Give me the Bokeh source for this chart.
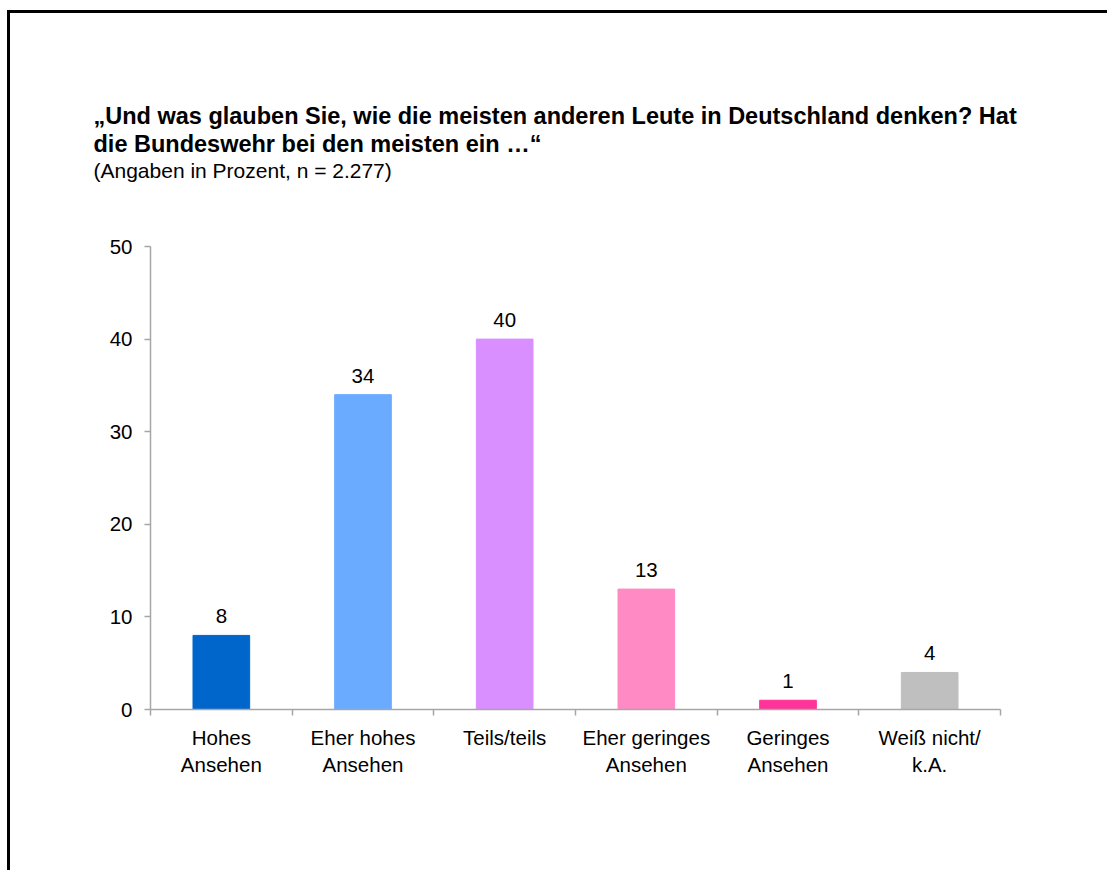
from bokeh.plotting import figure
from bokeh.models import Range1d, FixedTicker, Title, ColumnDataSource
from bokeh.core.properties import value
from bokeh.embed import file_html
from bokeh.resources import INLINE

# ---- data ----
categories = ["Hohes\nAnsehen", "Eher hohes\nAnsehen", "Teils/teils",
              "Eher geringes\nAnsehen", "Geringes\nAnsehen", "Weiß nicht/\nk.A."]
values = [8, 34, 40, 13, 1, 4]
colors = ["#0066CC", "#6AABFF", "#D98FFF", "#FF8AC4", "#FF3399", "#BFBFBF"]
y_ticks = [0, 10, 20, 30, 40, 50]
title_line1 = "„Und was glauben Sie, wie die meisten anderen Leute in Deutschland denken? Hat"
title_line2 = "die Bundeswehr bei den meisten ein …“"
subtitle = "(Angaben in Prozent, n = 2.277)"

FONT = "Liberation Sans"
AXIS_GRAY = "#A6A6A6"

# geometry (pixels)
W, H = 1100, 860
FL, FT, FW, FH = 140, 233, 850, 463

n = len(categories)
centers = [i + 0.5 for i in range(n)]

p = figure(width=W, height=H, output_backend="svg", toolbar_location=None,
           x_range=Range1d(0, n), y_range=Range1d(0, 50),
           min_border_left=FL, min_border_top=FT,
           min_border_right=W - FL - FW, min_border_bottom=H - FT - FH)
p.styles = {"border-left": "3px solid #000", "border-top": "3px solid #000",
            "margin-left": "7px", "margin-top": "10px"}
p.outline_line_color = None
p.background_fill_color = "white"
p.border_fill_color = "white"
p.grid.visible = False

src = ColumnDataSource(dict(x=centers, top=values, color=colors,
                            lbl=[str(v) for v in values]))
p.vbar(x="x", top="top", width=0.4, color="color", source=src)
p.text(x="x", y="top", text="lbl", source=src, text_align="center",
       text_baseline="alphabetic", y_offset=-19, text_color="black",
       text_font=value(FONT), text_font_size="20.5px")

# x axis
xa = p.xaxis[0]
xa.ticker = FixedTicker(ticks=centers, minor_ticks=list(range(n + 1)))
xa.major_label_overrides = {c: lab for c, lab in zip(centers, categories)}
xa.major_tick_out = 0
xa.major_tick_in = 0
xa.minor_tick_out = 6
xa.minor_tick_in = 0
xa.minor_tick_line_color = AXIS_GRAY
xa.axis_line_color = AXIS_GRAY
xa.axis_line_width = 1.5
xa.minor_tick_line_width = 1.5
xa.major_label_standoff = 10
xa.major_label_text_font = FONT
xa.major_label_text_font_size = "20.5px"
xa.major_label_text_color = "black"
xa.major_label_text_line_height = 1.2

# y axis
ya = p.yaxis[0]
ya.ticker = FixedTicker(ticks=y_ticks)
ya.major_tick_out = 6
ya.major_tick_in = 0
ya.minor_tick_out = 0
ya.minor_tick_in = 0
ya.major_tick_line_color = AXIS_GRAY
ya.axis_line_color = AXIS_GRAY
ya.axis_line_width = 1.5
ya.major_tick_line_width = 1.5
ya.major_label_standoff = 12
ya.major_label_text_font = FONT
ya.major_label_text_font_size = "20.5px"
ya.major_label_text_color = "black"

# spacer between frame and subtitle
p.add_layout(Title(text=" ", text_font_size="1px", standoff=62), "above")
# titles: first added sits nearest the frame
for txt, bold, size in [(subtitle, False, "21px"),
                        (title_line2, True, "23.5px"),
                        (title_line1, True, "23.5px")]:
    p.add_layout(Title(text=txt, align="left", offset=-57, standoff=0,
                       text_font=FONT, text_font_size=size,
                       text_font_style="bold" if bold else "normal",
                       text_color="black"), "above")

open("out.html", "w").write(file_html(p, INLINE))
